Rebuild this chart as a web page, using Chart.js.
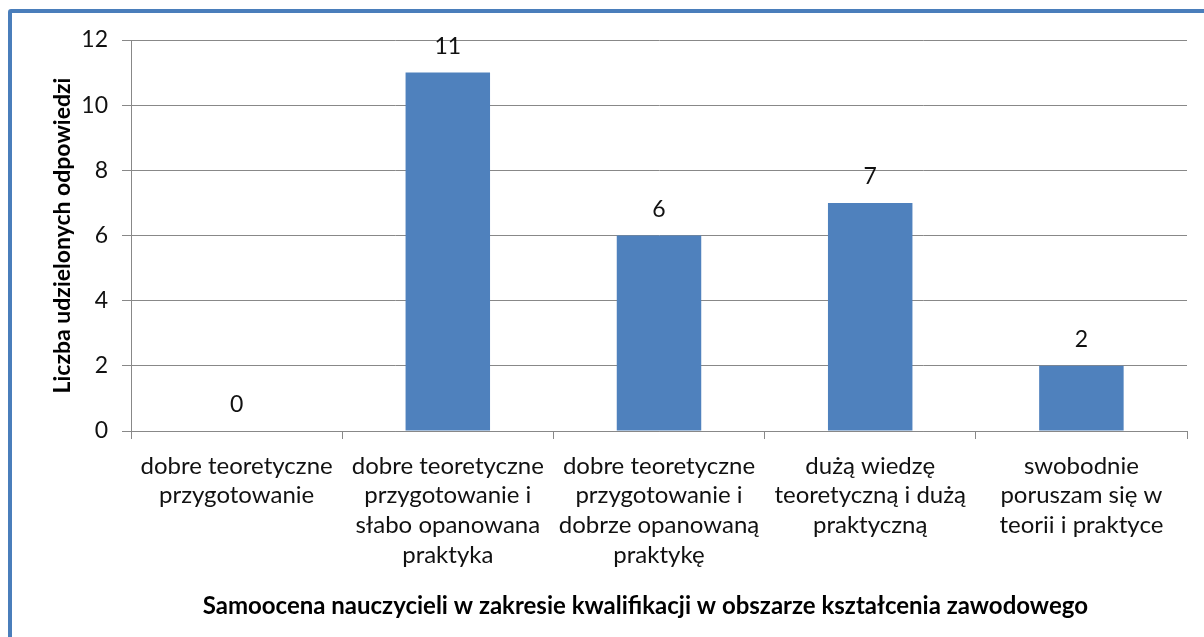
<!DOCTYPE html>
<html>
<head>
<meta charset="utf-8">
<script src="https://cdn.jsdelivr.net/npm/chart.js@4.4.1/dist/chart.umd.min.js"></script>
<style>
  html, body { margin: 0; padding: 0; background: #fff; }
  #wrap { position: relative; width: 1204px; height: 637px; overflow: hidden; }
  #frame {
    position: absolute; left: 8px; top: 9px; width: 1210px; height: 650px;
    border: 4px solid #4a7ebb; border-radius: 3px; box-sizing: border-box;
    pointer-events: none;
  }
  canvas { position: absolute; left: 0; top: 0; }
</style>
</head>
<body>
<div id="wrap">
  <canvas id="barChart" width="1204" height="637"></canvas>
  <div id="frame"></div>
</div>
<script>
const categories = [
  ["dobre teoretyczne", "przygotowanie"],
  ["dobre teoretyczne", "przygotowanie i", "słabo opanowana", "praktyka"],
  ["dobre teoretyczne", "przygotowanie i", "dobrze opanowaną", "praktykę"],
  ["dużą wiedzę", "teoretyczną i dużą", "praktyczną"],
  ["swobodnie", "poruszam się w", "teorii i praktyce"],
];
const answers = [0, 11, 6, 7, 2];
const yTitle = "Liczba udzielonych odpowiedzi";
const xTitle = "Samoocena nauczycieli w zakresie kwalifikacji w obszarze kształcenia zawodowego";

const fontFamily = "Lato, 'Open Sans', sans-serif";
const textColor = "#111111";
const gridColor = "#888888";

// value labels above each bar
const valueLabels = {
  id: "valueLabels",
  afterDatasetsDraw(chart) {
    const ctx = chart.ctx;
    const meta = chart.getDatasetMeta(0);
    ctx.save();
    ctx.font = "23px " + fontFamily;
    ctx.fillStyle = textColor;
    ctx.textAlign = "center";
    ctx.textBaseline = "middle";
    meta.data.forEach((bar, i) => {
      ctx.fillText(String(answers[i]), bar.x, bar.y - 26);
    });
    ctx.restore();
  },
};

// x axis caption, centred on the whole chart like in Excel
const xCaption = {
  id: "xCaption",
  afterDraw(chart) {
    const ctx = chart.ctx;
    ctx.save();
    ctx.font = "bold 24px " + fontFamily;
    ctx.fillStyle = "#000";
    ctx.textAlign = "center";
    ctx.textBaseline = "middle";
    ctx.fillText(xTitle, chart.width * 0.536, 606);
    ctx.restore();
  },
};

new Chart(document.getElementById("barChart"), {
  type: "bar",
  data: {
    labels: categories,
    datasets: [
      {
        label: "Odpowiedzi",
        data: answers,
        backgroundColor: "#4f81bd",
        barPercentage: 0.4,
        categoryPercentage: 1,
      },
    ],
  },
  plugins: [valueLabels, xCaption],
  options: {
    responsive: false,
    animation: false,
    layout: { padding: { left: 40, top: 40, right: 17, bottom: 0 } },
    plugins: { legend: { display: false }, tooltip: { enabled: false } },
    scales: {
      x: {
        afterFit: (scale) => { scale.height = 206; },
        grid: { drawOnChartArea: false, color: gridColor, tickLength: 8 },
        border: { color: gridColor },
        ticks: {
          color: textColor,
          padding: 12,
          maxRotation: 0,
          autoSkip: false,
          font: { family: fontFamily, size: 24, lineHeight: 1.24 },
        },
      },
      y: {
        min: 0,
        max: 12,
        afterFit: (scale) => { scale.width = 91; },
        grid: { color: gridColor, tickLength: 9 },
        border: { color: gridColor },
        ticks: {
          stepSize: 2,
          color: textColor,
          padding: 14,
          font: { family: fontFamily, size: 23 },
        },
        title: {
          display: true,
          text: yTitle,
          color: "#000",
          padding: { top: 9, bottom: 0 },
          font: { family: fontFamily, size: 23, weight: "bold" },
        },
      },
    },
  },
});
</script>
</body>
</html>
